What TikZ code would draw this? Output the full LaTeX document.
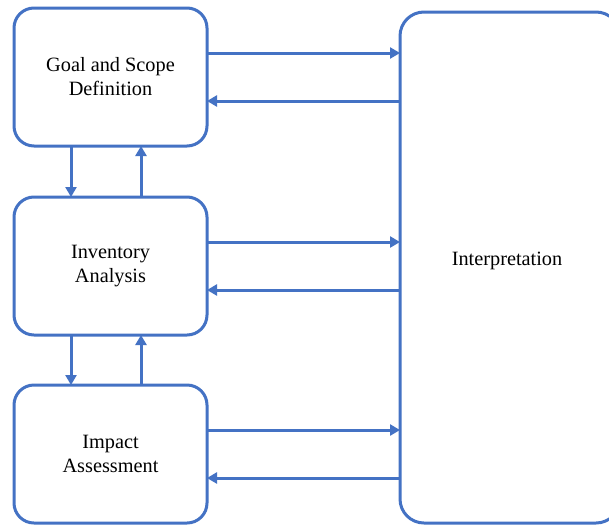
\documentclass[tikz,border=0pt]{standalone}
\usepackage{fontspec}
\setmainfont{Liberation Serif}
\usetikzlibrary{arrows.meta, positioning}
\definecolor{my_blue}{RGB}{68, 114, 196}
\tikzset {
  stage/.style = {draw=my_blue, line width=3pt, fill=white, rounded corners=20pt, rectangle, align=center, text centered, minimum width=193pt, minimum height=138pt, font=\fontsize{20.3}{24}\selectfont},
  interp/.style = {draw=my_blue, line width=3pt, fill=white, rounded corners=24pt, rectangle, minimum width=220pt, minimum height=511pt},
  line/.style = {-{Triangle[length=10pt, width=11pt]}, line width=3pt, color=my_blue}
}

\begin{document}
\begin{tikzpicture}[x=1pt, y=-1pt, inner sep=0pt, outer sep=0pt]
    \clip (0,0) rectangle (609,525);
    \fill[white] (0,0) rectangle (609,525);

    \node[stage] (goal) at (110.5,77) {Goal and Scope\\Definition};
    \node[stage, below=51pt of goal] (inventory) {Inventory\\Analysis};
    \node[stage, below=50pt of inventory] (impact) {Impact\\Assessment};
    \node[interp] (interpretation) at (510,267.5) {};
    \node[font=\fontsize{20.3}{24}\selectfont] (interptext) at (507,261) {Interpretation};

    % stages <-> interpretation
    \foreach \s in {goal, inventory, impact} {
        \draw[line] ([yshift=24pt]\s.east) -- ([yshift=24pt]\s.east -| interpretation.west);
        \draw[line] ([yshift=-24pt]\s.east -| interpretation.west) -- ([yshift=-24pt]\s.east);
    }

    % stage <-> stage
    \draw[line] ([xshift=-39.5pt]goal.south) -- ([xshift=-39.5pt]inventory.north);
    \draw[line] ([xshift=30.5pt]inventory.north) -- ([xshift=30.5pt]goal.south);
    \draw[line] ([xshift=-39.5pt]inventory.south) -- ([xshift=-39.5pt]impact.north);
    \draw[line] ([xshift=30.5pt]impact.north) -- ([xshift=30.5pt]inventory.south);

\end{tikzpicture}
\end{document}
